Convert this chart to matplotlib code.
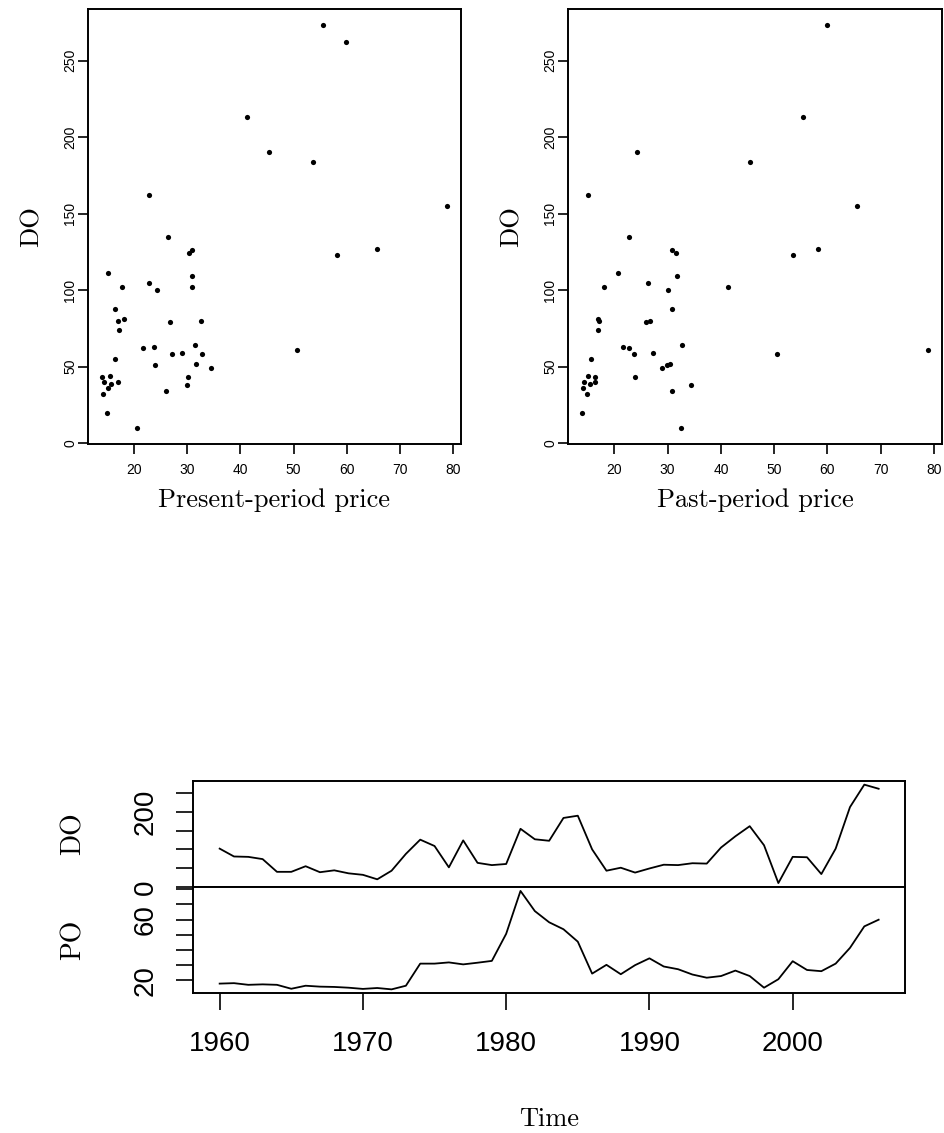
import numpy as np
import matplotlib
matplotlib.use("Agg")
import matplotlib.pyplot as plt

# yearly series, 1960-2006
years = np.arange(1960, 2007)
do_vals = [102, 81, 80, 74, 40, 40, 55, 39, 44, 36, 32, 20, 43, 88, 126, 109,
           52, 124, 64, 58, 61, 155, 127, 123, 184, 190, 100, 43, 51, 38, 49,
           59, 58, 63, 62, 105, 135, 162, 111, 10, 80, 79, 34, 102, 213, 273, 262]
po_vals = [17.7, 18.0, 16.9, 17.2, 16.9, 14.3, 16.3, 15.7, 15.5, 15.0, 14.2,
           14.8, 13.9, 16.3, 30.9, 30.9, 31.7, 30.4, 31.5, 32.7, 50.6, 78.9,
           65.6, 58.2, 53.6, 45.4, 24.3, 30.1, 23.9, 29.9, 34.4, 29.0, 27.2,
           23.7, 21.6, 22.7, 26.3, 22.7, 15.0, 20.6, 32.5, 26.7, 25.9, 30.9,
           41.3, 55.5, 59.9]

do = np.array(do_vals, dtype=float)
po = np.array(po_vals, dtype=float)

W, H = 945, 1133
fig = plt.figure(figsize=(W / 100, H / 100), dpi=100)

TICKFONT = "Liberation Sans"
LABFONT = "cmr10"


def px_axes(x0, y0, x1, y1):
    # pixel box (top-left origin) -> figure axes
    return fig.add_axes([x0 / W, 1 - y1 / H, (x1 - x0) / W, (y1 - y0) / H])


def r_range(v):
    lo, hi = np.min(v), np.max(v)
    d = (hi - lo) * 0.04
    return lo - d, hi + d


def style_box(ax, lw=1.4):
    for s in ax.spines.values():
        s.set_linewidth(lw)


def scatter_panel(x0, x1, xv, yv, xlabel):
    ax = px_axes(x0, 9.3, x1, 444)
    ax.scatter(xv, yv, s=14, color="black", linewidths=0)
    ax.set_xlim(*r_range(xv))
    ax.set_ylim(*r_range(yv))
    ax.set_xticks(range(20, 81, 10))
    ax.set_yticks(range(0, 251, 50))
    ax.tick_params(axis="both", length=7, width=1.2, labelsize=10)
    ax.tick_params(axis="x", pad=6.5)
    ax.tick_params(axis="y", pad=0.8)
    for lab in ax.get_xticklabels():
        lab.set_fontfamily(TICKFONT)
    for lab in ax.get_yticklabels():
        lab.set_fontfamily(TICKFONT)
        lab.set_rotation(90)
        lab.set_va("center")
    style_box(ax)
    cx = (x0 + x1) / 2
    fig.text(cx / W, 1 - 507 / H, xlabel, ha="center", va="baseline",
             fontsize=19, family=LABFONT)
    fig.text((x0 - 56) / W, 1 - 226.6 / H, "DO", ha="center", va="center",
             rotation=90, fontsize=19, family=LABFONT)
    return ax


scatter_panel(88, 461, po, do, "Present-period price")
scatter_panel(568, 942, po[1:], do[:-1], "Past-period price")

# time series panels
ax1 = px_axes(193.3, 780.7, 905, 887)
ax2 = px_axes(193.3, 887, 905, 993.3)
xr = r_range(years)

ax1.plot(years, do, color="black", lw=1.3)
ax1.set_xlim(*xr)
ax1.set_ylim(*r_range(do))
ax1.set_xticks([])
ax1.set_yticks(range(0, 251, 50))
ax1.set_yticklabels(["0", "", "", "", "200", ""])

ax2.plot(years, po, color="black", lw=1.3)
ax2.set_xlim(*xr)
ax2.set_ylim(*r_range(po))
ax2.set_xticks(range(1960, 2001, 10))
ax2.set_yticks(range(20, 81, 10))
ax2.set_yticklabels(["20", "", "", "", "60", "", ""])

for ax in (ax1, ax2):
    style_box(ax)
    ax.tick_params(axis="both", length=12, width=1.2, labelsize=20)
    ax.tick_params(axis="y", pad=13)
    ax.tick_params(axis="x", pad=15)
    for lab in ax.get_xticklabels():
        lab.set_fontfamily(TICKFONT)
    for lab in ax.get_yticklabels():
        lab.set_fontfamily(TICKFONT)
        lab.set_rotation(90)
        lab.set_va("center")

fig.text(73 / W, 1 - 834 / H, "DO", ha="center", va="center", rotation=90,
         fontsize=20, family=LABFONT)
fig.text(73 / W, 1 - 940 / H, "PO", ha="center", va="center", rotation=90,
         fontsize=20, family=LABFONT)
fig.text(549 / W, 1 - 1126 / H, "Time", ha="center", va="baseline",
         fontsize=19, family=LABFONT)

fig.savefig("out.png", dpi=100)
